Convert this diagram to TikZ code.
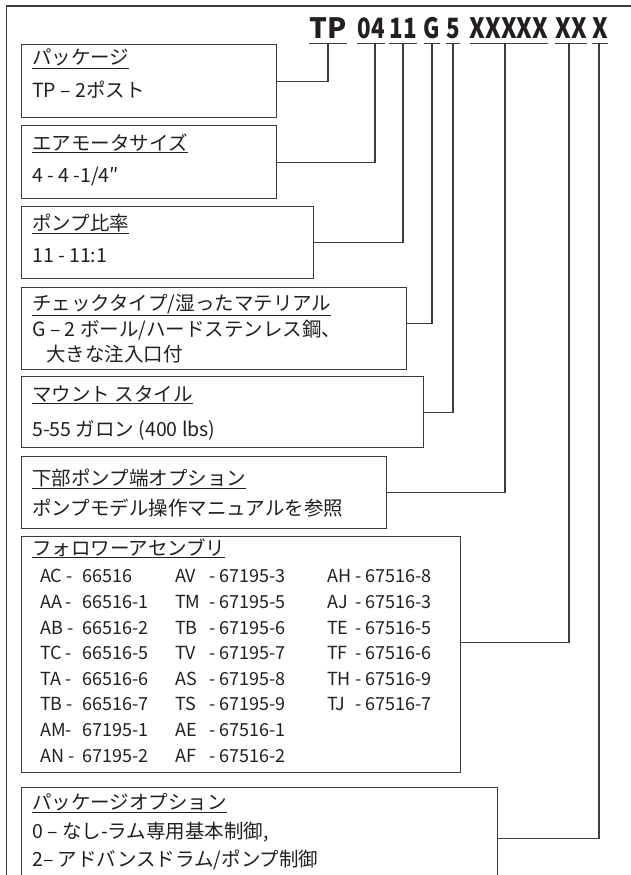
\documentclass[tikz,border=0pt]{standalone}
\usepackage{fontspec}
\setmainfont{Noto Sans CJK JP}
\newfontfamily\codenarrow{Noto Sans CJK JP}[FakeStretch=0.8]
\newfontfamily\codewide{Noto Sans CJK JP}[FakeStretch=0.85]
\usepackage{xcolor}
\definecolor{tpink}{RGB}{35, 31, 32}
\definecolor{tpline}{RGB}{60, 60, 60}
\usetikzlibrary{positioning}

\begin{document}
\begin{tikzpicture}[x=1pt, y=-1pt,
    box/.style={draw=tpline, line width=1.2pt, anchor=north west, inner sep=0pt},
    wire/.style={draw=tpline, line width=1.1pt},
    uline/.style={draw=tpline, line width=1.4pt},
    ttl/.style={anchor=base west, inner sep=0pt, text=tpink,
        font=\fontsize{19.5}{22}\selectfont},
    cell/.style={anchor=base west, inner sep=0pt, text=tpink,
        font=\fontsize{18}{20}\selectfont},
    code/.style={anchor=base, inner sep=0pt, text=tpink}]

\useasboundingbox (0,0) rectangle (631,875);
\clip (0,0) rectangle (631,875);

% --- Marco exterior ---
\draw[tpline, line width=1.6pt] (6.5,900) |- (640,6);

% --- Codigo de pieza ---
\foreach \n/\t/\x/\f in {tp/TP/328/\rmfamily, mot/04/371/\codenarrow,
                         rat/11/403/\codenarrow, chk/G/432/\codenarrow,
                         mnt/5/453/\codenarrow, low/XXXXX/509/\codewide,
                         fol/XX/571/\codewide, opt/X/600/\codewide} {
    \node[code, font=\f\fontsize{28}{30}\selectfont\bfseries] (c\n) at (\x,39) {\t};
    \draw[uline] ([yshift=-4.5pt]c\n.base west) -- ([yshift=-4.5pt]c\n.base east);
}

% --- Cajas ---
\node[box, minimum width=255, minimum height=73]  (pkg)    at (21,44)  {};
\node[box, minimum width=255, minimum height=73]  (motor)  at (21,125) {};
\node[box, minimum width=292, minimum height=72]  (ratio)  at (21,206) {};
\node[box, minimum width=385, minimum height=82]  (check)  at (21,287) {};
\node[box, minimum width=402, minimum height=71]  (mount)  at (21,376) {};
\node[box, minimum width=365, minimum height=72]  (lower)  at (21,456) {};
\node[box, minimum width=439, minimum height=236] (follow) at (21,536) {};
\node[box, minimum width=476, minimum height=102] (pkgopt) at (21,787) {};

% --- Textos de las cajas ---
\node[ttl] (pkg-t)    at (32,65)  {\underline{パッケージ}};
\node[ttl] (pkg-v)    at (32,97)  {TP – 2ポスト};
\node[ttl] (motor-t)  at (32,150) {\underline{エアモータサイズ}};
\node[ttl] (motor-v)  at (32,182) {4 - 4 -1/4″};
\node[ttl] (ratio-t)  at (32,230) {\underline{ポンプ比率}};
\node[ttl] (ratio-v)  at (32,262) {11 - 11:1};
\node[ttl] (check-t)  at (32,310) {\underline{チェックタイプ/湿ったマテリアル}};
\node[ttl] (check-v)  at (32,336) {G – 2 ボール/ハードステンレス鋼、};
\node[ttl] (check-w)  at (46,361) {大きな注入口付};
\node[ttl] (mount-t)  at (32,401) {\underline{マウント スタイル}};
\node[ttl] (mount-v)  at (32,436) {5-55 ガロン (400 lbs)};
\node[ttl] (lower-t)  at (32,485) {\underline{下部ポンプ端オプション}};
\node[ttl] (lower-v)  at (32,515) {ポンプモデル操作マニュアルを参照};
\node[ttl] (follow-t) at (32,555) {\underline{フォロワーアセンブリ}};
\node[ttl] (pkgopt-t) at (32,809) {\underline{パッケージオプション}};
\node[ttl] (pkgopt-v) at (32,838) {0 – なし-ラム専用基本制御,};
\node[ttl] (pkgopt-w) at (32,866) {2– アドバンスドラム/ポンプ制御};

% --- Tabla de seguidores ---
\foreach \i/\y/\ca/\cb/\cc/\cd/\ce/\cf in {
    1/582/AC -/66516/AV/- 67195-3/AH/- 67516-8,
    2/608/AA -/66516-1/TM/- 67195-5/AJ/- 67516-3,
    3/634/AB -/66516-2/TB/- 67195-6/TE/- 67516-5,
    4/659/TC -/66516-5/TV/- 67195-7/TF/- 67516-6,
    5/685/TA -/66516-6/AS/- 67195-8/TH/- 67516-9,
    6/710/TB -/66516-7/TS/- 67195-9/TJ/- 67516-7,
    7/736/AM-/67195-1/AE/- 67516-1//,
    8/762/AN -/67195-2/AF/- 67516-2//} {
    \node[cell] (fa\i) at (40,\y)  {\ca};
    \node[cell] (fb\i) at (82,\y)  {\cb};
    \node[cell] (fc\i) at (175,\y) {\cc};
    \node[cell] (fd\i) at (209,\y) {\cd};
    \node[cell] (fe\i) at (327,\y) {\ce};
    \node[cell] (ff\i) at (355,\y) {\cf};
}

% --- Conexiones ---
\draw[wire] ([yshift=-4.5pt]ctp.base)  |- (pkg.east);
\draw[wire] ([xshift=4pt,yshift=-4.5pt]cmot.base) |- (motor.east);
\draw[wire] ([yshift=-4.5pt]crat.base) |- (ratio.east);
\draw[wire] ([yshift=-4.5pt]cchk.base) |- ([yshift=5pt]check.east);
\draw[wire] ([yshift=-4.5pt]cmnt.base) |- (mount.east);
\draw[wire] ([xshift=-4pt,yshift=-4.5pt]clow.base) |- (lower.east);
\draw[wire] ([xshift=-2pt,yshift=-4.5pt]cfol.base) |- ([yshift=12pt]follow.east);
\draw[wire] ([xshift=-1pt,yshift=-4.5pt]copt.base) |- (pkgopt.east);

\end{tikzpicture}
\end{document}
